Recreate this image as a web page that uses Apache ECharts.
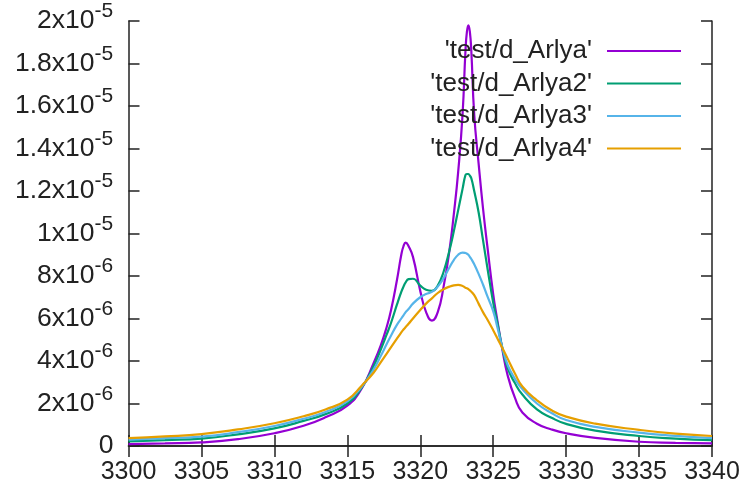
<!DOCTYPE html>
<html>
<head>
<meta charset="utf-8">
<script src="https://cdn.jsdelivr.net/npm/echarts@6/dist/echarts.min.js"></script>
<style>
  html, body { margin: 0; padding: 0; background: #fff; }
  #chart { width: 749px; height: 492px; }
</style>
</head>
<body>
<div id="chart"></div>
<script>
// x positions (shared by all four curves)
const xs = [3300, 3302.5, 3305, 3307.5, 3310, 3312, 3313.5, 3315, 3316, 3316.8,
  3317.3, 3317.7, 3318, 3318.4, 3318.7, 3318.85, 3319, 3319.2, 3319.5, 3320,
  3320.4, 3320.8, 3321.2, 3321.6, 3322, 3322.3, 3322.6, 3322.9, 3323.1, 3323.2,
  3323.3, 3323.4, 3323.5, 3323.7, 3324, 3324.3, 3324.6, 3325, 3325.3, 3325.6,
  3326, 3326.5, 3327, 3328, 3329, 3330, 3332, 3335, 3337.5, 3340];

// values in units of 1e-6
const arlya = [0.09, 0.12, 0.17, 0.32, 0.6, 0.95, 1.35, 1.9, 2.72, 3.9,
  4.75, 5.6, 6.4, 7.8, 9.0, 9.4, 9.57, 9.4, 8.9, 7.3,
  6.3, 5.9, 6.3, 7.5, 9.2, 10.9, 12.9, 15.6, 18.6, 19.5,
  19.8, 19.5, 18.6, 15.6, 13.3, 11.2, 9.4, 7.15, 5.85, 4.65,
  3.3, 2.25, 1.58, 1.05, 0.78, 0.6, 0.38, 0.2, 0.15, 0.12];

const arlya2 = [0.22, 0.28, 0.35, 0.55, 0.83, 1.18, 1.5, 2.0, 2.76, 3.75,
  4.55, 5.25, 5.8, 6.65, 7.25, 7.5, 7.7, 7.85, 7.87, 7.55,
  7.35, 7.3, 7.55, 8.2, 9.2, 10.1, 11.1, 12.1, 12.75, 12.8,
  12.8, 12.72, 12.6, 12.0, 11.0, 9.7, 8.4, 6.75, 5.75, 4.7,
  3.65, 2.95, 2.42, 1.72, 1.33, 1.04, 0.72, 0.47, 0.35, 0.28];

const arlya3 = [0.3, 0.37, 0.44, 0.65, 0.94, 1.28, 1.6, 2.1, 2.8, 3.6,
  4.25, 4.8, 5.2, 5.7, 6.0, 6.15, 6.3, 6.45, 6.7, 7.0,
  7.15, 7.25, 7.5, 7.9, 8.4, 8.75, 9.0, 9.1, 9.08, 9.05,
  9.0, 8.9, 8.8, 8.55, 8.1, 7.6, 7.05, 6.35, 5.55, 4.7,
  3.8, 3.15, 2.68, 2.0, 1.55, 1.22, 0.9, 0.63, 0.48, 0.37];

const arlya4 = [0.37, 0.45, 0.56, 0.78, 1.07, 1.4, 1.72, 2.18, 2.85, 3.45,
  3.95, 4.35, 4.65, 5.05, 5.35, 5.48, 5.6, 5.75, 6.0, 6.4,
  6.7, 6.95, 7.2, 7.38, 7.5, 7.56, 7.58, 7.53, 7.45, 7.42,
  7.38, 7.32, 7.26, 7.1, 6.7, 6.3, 5.95, 5.45, 5.05, 4.65,
  4.1, 3.4, 2.8, 2.15, 1.68, 1.38, 1.05, 0.76, 0.58, 0.47];

const names = ["'test/d_Arlya'", "'test/d_Arlya2'", "'test/d_Arlya3'", "'test/d_Arlya4'"];
const colors = ["#9400d3", "#009e73", "#56b4e9", "#e69f00"];
const curves = [arlya, arlya2, arlya3, arlya4];

const font = "'Liberation Sans', Arial, sans-serif";
const ink = "#222";

// 18 -> 1.8x10^-5, 8 -> 8x10^-6 ; the {h} token only makes the line box tall
function yLabel(v) {
  if (v === 0) return "{b|0}";
  let mant = v, exp = -6;
  if (v >= 10) { mant = v / 10; exp = -5; }
  return "{b|" + (+mant.toFixed(1)) + "x10}{s|" + exp + "}{h| }";
}

const frame = {
  axisLine: { show: true, lineStyle: { color: ink, width: 1.5 } },
  axisTick: { show: true, inside: true, length: 11, lineStyle: { color: ink, width: 1.5 } },
  splitLine: { show: false }
};

const chart = echarts.init(document.getElementById("chart"), null, { renderer: "canvas" });

chart.setOption({
  animation: false,
  backgroundColor: "#fff",
  grid: { left: 128.5, right: 37, top: 21, bottom: 46, containLabel: false },
  legend: {
    data: names,
    orient: "vertical",
    right: 63,
    top: 33,
    align: "right",
    icon: "rect",
    itemWidth: 74,
    itemHeight: 2,
    itemGap: 6.5,
    textStyle: { fontFamily: font, fontSize: 26, lineHeight: 26, color: ink, padding: [0, 10, 0, 0] }
  },
  xAxis: [
    Object.assign({
      type: "value", min: 3300, max: 3340, interval: 5, position: "bottom",
      axisLabel: { fontFamily: font, fontSize: 25, color: ink, margin: 14, formatter: v => String(v) }
    }, frame),
    Object.assign({
      type: "value", min: 3300, max: 3340, interval: 5, position: "top",
      axisLabel: { show: false }
    }, frame)
  ],
  yAxis: [
    Object.assign({
      type: "value", min: 0, max: 20, interval: 2, position: "left",
      axisLabel: {
        margin: 15,
        formatter: yLabel,
        rich: {
          b: { fontFamily: font, fontSize: 26.5, color: ink, lineHeight: 27, verticalAlign: "middle" },
          s: { fontFamily: font, fontSize: 21, color: ink, lineHeight: 21, verticalAlign: "top" },
          h: { fontSize: 1, lineHeight: 40, verticalAlign: "middle" }
        }
      }
    }, frame),
    Object.assign({
      type: "value", min: 0, max: 20, interval: 2, position: "right",
      axisLabel: { show: false }
    }, frame)
  ],
  series: curves.map((arr, k) => ({
    name: names[k],
    type: "line",
    xAxisIndex: 0,
    yAxisIndex: 0,
    data: xs.map((x, i) => [x, arr[i]]),
    showSymbol: false,
    smooth: 0.5,
    lineStyle: { width: 2.2, color: colors[k] },
    itemStyle: { color: colors[k] }
  }))
});

window.addEventListener("resize", () => chart.resize());
</script>
</body>
</html>
